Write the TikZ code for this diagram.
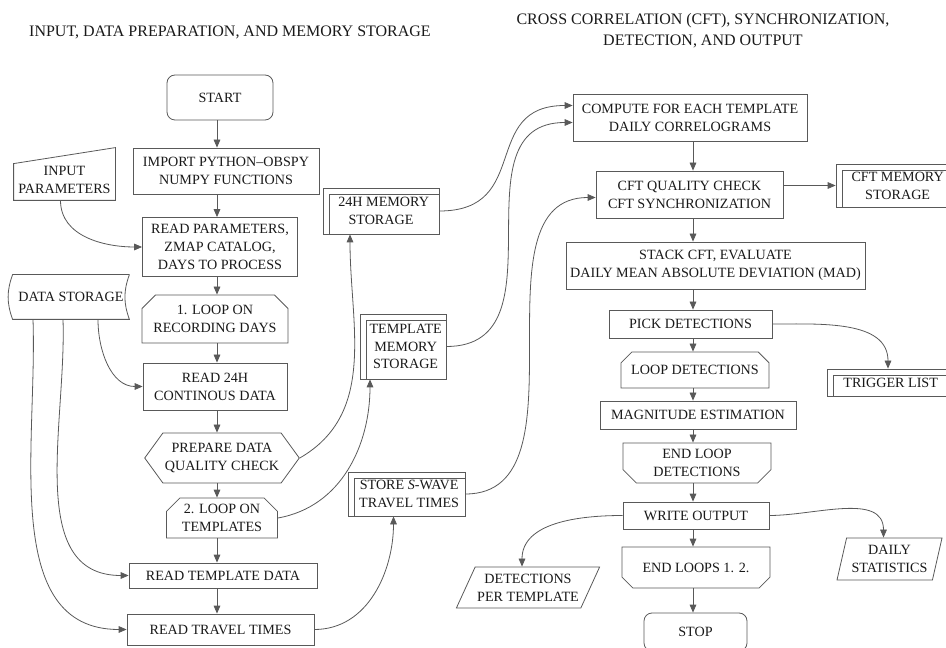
\documentclass[tikz,border=0pt]{standalone}
\usepackage{fontspec}
\setmainfont{Liberation Serif}
\usetikzlibrary{arrows.meta,shapes.geometric,shapes.misc,shapes.symbols}

\newcommand{\boxfont}{\fontsize{10.6}{13.4}\selectfont}

\tikzset{
  line/.style={draw=black!65, line width=0.6pt},
  arr/.style={line, -{Triangle[length=6pt,width=5pt]}},
  box/.style={line, rectangle, align=center, inner sep=1.5pt, text=black!90, font=\boxfont},
  sz/.style 2 args={minimum width=#1*0.75pt, minimum height=#2*0.75pt},
  term/.style={box, rounded corners=6pt},
  loopbeg/.style={box, chamfered rectangle, chamfered rectangle corners={north west,north east}, chamfered rectangle xsep=7pt},
  loopend/.style={box, chamfered rectangle, chamfered rectangle corners={south west,south east}, chamfered rectangle xsep=7pt},
  prepbox/.style={box, signal, signal to=east and west, signal pointer angle=108},
  iobox/.style={box, trapezium, trapezium stretches body},
  hdr/.style={align=center, text=black!90, font=\fontsize{12}{16}\selectfont}
}

\begin{document}
\begin{tikzpicture}[x=0.75pt, y=-0.75pt]
\useasboundingbox (0,0) rectangle (946,648);
% Headings
\node[hdr] (hleft) at (230,32) {INPUT, DATA PREPARATION, AND MEMORY STORAGE};
\node[hdr] (hright) at (703,31) {CROSS CORRELATION (CFT), SYNCHRONIZATION,\\DETECTION, AND OUTPUT};
% Left column
\coordinate (colL) at (217,0);
\node[term, sz={106}{45}] (start) at (220,97.5) {START};
\node[box, sz={186}{46}] (imppy) at (226,171) {IMPORT PYTHON--OBSPY\\NUMPY FUNCTIONS};
\node[box, sz={155}{59}] (rdpar) at (220,247) {READ PARAMETERS,\\ZMAP CATALOG,\\DAYS TO PROCESS};
\node[loopbeg, sz={139}{48}] (loopday) at (215,319) {1. LOOP ON\\RECORDING DAYS};
\node[box, sz={144}{47}] (rd24) at (215,386.5) {READ 24H\\CONTINOUS DATA};
\node[prepbox, sz={149}{50}] (prep) at (222,458) {PREPARE DATA\\QUALITY CHECK};
\node[loopbeg, sz={111}{40}] (looptpl) at (222,518) {2. LOOP ON\\TEMPLATES};
\node[box, sz={188}{25}] (rdtpl) at (223,575.5) {READ TEMPLATE DATA};
\node[box, sz={187}{31}] (rdtt) at (220.5,629.5) {READ TRAVEL TIMES};
% Inputs and data storage
\node[box, draw=none, sz={101}{40}] (inpar) at (64.5,180) {INPUT\\PARAMETERS};
\draw[line] ([yshift=-3pt]inpar.north west) -- ([yshift=9pt]inpar.north east) -- (inpar.south east) -- (inpar.south west) -- cycle;
\node[box, draw=none, sz={116}{44}] (datst) at (71,297) {DATA STORAGE};
\draw[line] (datst.north east) -- (datst.north west) to[bend right=20] (datst.south west)
  -- (datst.south east) to[bend left=20] (datst.north east);
% Memory storages
\node[box, sz={116}{46}] (mem24) at (381,211) {\hspace{4pt}24H MEMORY\\STORAGE};
\node[box, sz={86}{65}] (memtpl) at (403,346.5) {\hspace{4pt}TEMPLATE\\\hspace{4pt}MEMORY\\\hspace{4pt}STORAGE};
\node[box, sz={117}{44}] (stsw) at (406.5,494) {\hspace{4pt}STORE \textit{S}-WAVE\\\hspace{4pt}TRAVEL TIMES};
% Right column
\coordinate (colR) at (693,0);
\node[box, sz={234}{47}] (corr) at (690,117.5) {COMPUTE FOR EACH TEMPLATE\\DAILY CORRELOGRAMS};
\node[box, sz={187}{47}] (cfq) at (689.5,194.5) {CFT QUALITY CHECK\\CFT SYNCHRONIZATION};
\node[box, sz={118}{43}] (cftmem) at (895,185.5) {\hspace{4pt}CFT MEMORY\\\hspace{4pt}STORAGE};
\node[box, sz={299}{47}] (stack) at (715.5,265.5) {STACK CFT, EVALUATE\\DAILY MEAN ABSOLUTE DEVIATION (MAD)};
\node[box, sz={163}{28}] (pick) at (690.5,324) {PICK DETECTIONS};
\node[box, sz={122}{27}] (trig) at (888,382.5) {\hspace{4pt}TRIGGER LIST};
\node[loopbeg, sz={148}{36}] (loopdet) at (695,370) {LOOP DETECTIONS};
\node[box, sz={196}{28}] (mag) at (698,415) {MAGNITUDE ESTIMATION};
\node[loopend, sz={148}{40}] (endloopdet) at (697,463) {END LOOP\\DETECTIONS};
\node[box, sz={146}{27}] (wout) at (696,515.5) {WRITE OUTPUT};
\node[loopend, sz={148}{41}] (endloops) at (696,567.5) {END LOOPS 1. 2.};
\node[term, sz={103}{38}] (stop) at (695.5,632) {STOP};
\node[iobox, trapezium left angle=59, trapezium right angle=121, sz={140}{41}] (detpt) at (528,587.5) {DETECTIONS\\PER TEMPLATE};
\node[iobox, trapezium left angle=73, trapezium right angle=107, sz={105}{42}] (daily) at (889.5,559) {DAILY\\STATISTICS};
% Internal storage marks
\foreach \n in {mem24, memtpl, stsw, cftmem, trig}
  \draw[line] ([xshift=5pt]\n.south west) |- ([yshift=-5pt]\n.north east);
% Main flow
\foreach \a/\b in {start/imppy, imppy/rdpar, rdpar/loopday, loopday/rd24, rd24/prep, prep/looptpl, looptpl/rdtpl, rdtpl/rdtt}
  \draw[arr] (\a.south -| colL) -- (\b.north -| colL);
\foreach \a/\b in {corr/cfq, cfq/stack, stack/pick, pick/loopdet, loopdet/mag, mag/endloopdet, endloopdet/wout, wout/endloops, endloops/stop}
  \draw[arr] (\a.south -| colR) -- (\b.north -| colR);
% Side connectors
\draw[arr] ([xshift=-3pt]inpar.south) to[out=-90,in=180] (rdpar.west);
\draw[arr] ([xshift=20.25pt]datst.south) to[out=-90,in=180] (rd24.west);
\draw[arr] ([xshift=-6pt]datst.south) to[out=-88,in=180] (rdtpl.west);
\draw[arr] ([xshift=-28.5pt]datst.south) to[out=-88,in=180] (rdtt.west);
\draw[arr] (prep.east) to[out=30,in=-90] ([xshift=-23.25pt]mem24.south);
\draw[arr] (looptpl.east) to[out=10,in=-90] ([xshift=-24.75pt]memtpl.south);
\draw[arr] (rdtt.east) to[out=0,in=-90] ([xshift=-9.75pt]stsw.south);
\draw[arr] (mem24.east) to[out=0,in=180,looseness=1.4] ([yshift=9pt]corr.west);
\draw[arr] (memtpl.east) to[out=0,in=180,looseness=1.2] ([yshift=-3.75pt]corr.west);
\draw[arr] (stsw.east) to[out=0,in=180] ([yshift=-2.25pt]cfq.west);
\draw[arr] (cfq.east |- cftmem.west) -- (cftmem.west);
\draw[arr] (pick.east) to[out=0,in=90] (trig.north);
\draw[arr] (wout.west) to[out=180,in=90] ([xshift=-4.5pt]detpt.north);
\draw[arr] (wout.east) to[out=0,in=90] ([xshift=-4.5pt]daily.north);
\end{tikzpicture}
\end{document}
